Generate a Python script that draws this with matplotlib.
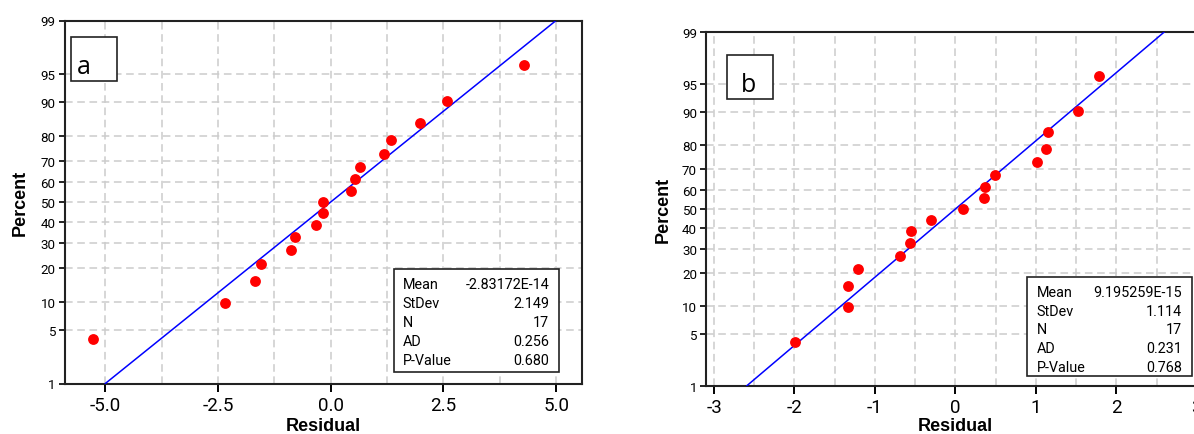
import math
import numpy as np
import matplotlib
matplotlib.use("Agg")
import matplotlib.pyplot as plt
from matplotlib.patches import Rectangle
from matplotlib.ticker import MultipleLocator, NullLocator
from statistics import NormalDist

# ---------------- data ----------------
percent = [4.0, 9.8, 15.5, 21.3, 27.0, 32.8, 38.5, 44.3, 50.0,
           55.7, 61.5, 67.2, 73.0, 78.7, 84.5, 90.2, 96.0]
resid_a = [-5.28, -2.34, -1.69, -1.54, -0.89, -0.80, -0.33, -0.17, -0.17,
           0.44, 0.54, 0.64, 1.19, 1.34, 1.99, 2.58, 4.28]
resid_b = [-1.99, -1.34, -1.33, -1.21, -0.69, -0.57, -0.55, -0.30, 0.09,
           0.35, 0.37, 0.49, 1.01, 1.13, 1.15, 1.53, 1.79]
mean_a, sd_a = -2.83172e-14, 2.149
mean_b, sd_b = 9.195259e-15, 1.114
fit_pct = [1, 99]
stat_names = ["Mean", "StDev", "N", "AD", "P-Value"]
stat_vals_a = ["-2.83172E-14", "2.149", "17", "0.256", "0.680"]
stat_vals_b = ["9.195259E-15", "1.114", "17", "0.231", "0.768"]
y_ticks = [1, 5, 10, 20, 30, 40, 50, 60, 70, 80, 90, 95, 99]
x_ticks_a = [-5.0, -2.5, 0.0, 2.5, 5.0]
x_ticks_b = [-3, -2, -1, 0, 1, 2, 3]
panel_labels = ["a", "b"]

# ---------------- probability scale ----------------
_nd = NormalDist()
_inv = np.vectorize(_nd.inv_cdf, otypes=[float])
_erf = np.vectorize(math.erf, otypes=[float])


def fwd(p):
    p = np.asarray(p, dtype=float)
    q = np.clip(p / 100.0, 1e-9, 1 - 1e-9)
    return _inv(q)


def inv(z):
    z = np.asarray(z, dtype=float)
    return 100.0 * 0.5 * (1.0 + _erf(z / math.sqrt(2.0)))


W, H = 1194, 435
fig = plt.figure(figsize=(W / 100, H / 100), dpi=100)


def fx(px):
    return px / W


def fy(py):
    return 1 - py / H


TICK_FONT = ["Roboto", "DejaVu Sans"]
LABEL_FONT = ["Liberation Sans", "DejaVu Sans"]
GRID_KW = dict(color="#cccccc", linewidth=1.1, linestyle=(0, (5, 3)))


def make_panel(rect_px, xlim, xticks, xminor, fmt, resid, mean, sd,
               stats_vals, stats_box, label, label_box, label_pos):
    l, t, r, b = rect_px
    ax = fig.add_axes([fx(l), fy(b), (r - l) / W, (b - t) / H])
    ax.set_yscale("function", functions=(fwd, inv))
    ax.set_ylim(1, 99)
    ax.set_xlim(*xlim)

    ax.set_yticks(y_ticks)
    ax.set_yticklabels([str(v) for v in y_ticks])
    ax.yaxis.set_minor_locator(NullLocator())
    ax.set_xticks(xticks)
    ax.set_xticklabels([fmt.format(v) for v in xticks])
    ax.xaxis.set_minor_locator(MultipleLocator(xminor))

    ax.grid(True, which="both", axis="x", **GRID_KW)
    ax.grid(True, which="major", axis="y", **GRID_KW)
    ax.set_axisbelow(True)

    ax.tick_params(axis="x", which="major", direction="out", length=6,
                   width=1.4, pad=3, labelsize=13.5, colors="black")
    ax.tick_params(axis="x", which="minor", length=0)
    ax.tick_params(axis="y", which="major", direction="out", length=4.5,
                   width=1.2, pad=2, labelsize=9.6)
    for lab in ax.get_xticklabels() + ax.get_yticklabels():
        lab.set_fontfamily(TICK_FONT)
    for sp in ax.spines.values():
        sp.set_linewidth(1.5)
        sp.set_color("#222222")

    # fitted line
    zfit = fwd(fit_pct)
    xfit = mean + sd * zfit
    ax.plot(xfit, fit_pct, color="#0000ff", linewidth=1.1, zorder=3)
    # points
    ax.plot(resid, percent, linestyle="none", marker="o", markersize=7.8,
            color="#ff0000", markeredgewidth=0, zorder=4)

    ax.set_xlabel("Residual", fontsize=13, fontweight="bold",
                  family=LABEL_FONT, va="baseline")
    ax.xaxis.set_label_coords(0.5, -(431.0 - b) / (b - t))
    ax.set_ylabel("Percent", fontsize=13, fontweight="bold",
                  family=LABEL_FONT, va="center")
    ax.yaxis.set_label_coords(-(l - label_pos) / (r - l), 0.5)

    # stats box
    bx0, by0, bx1, by1, tx0, tx1, ry0, rdy = stats_box
    fig.patches.append(Rectangle((fx(bx0), fy(by1)), (bx1 - bx0) / W,
                                 (by1 - by0) / H, transform=fig.transFigure,
                                 facecolor="white", edgecolor="#222222",
                                 linewidth=1.2, zorder=5))
    for i, (nm, vv) in enumerate(zip(stat_names, stats_vals)):
        yy = fy(ry0 + i * rdy)
        fig.text(fx(tx0), yy, nm, ha="left", va="center", fontsize=10.4,
                 family=TICK_FONT, zorder=6)
        fig.text(fx(tx1), yy, vv, ha="right", va="center", fontsize=10.4,
                 family=TICK_FONT, zorder=6)

    # panel label box
    lx0, ly0, lx1, ly1, cx, cy = label_box
    fig.patches.append(Rectangle((fx(lx0), fy(ly1)), (lx1 - lx0) / W,
                                 (ly1 - ly0) / H, transform=fig.transFigure,
                                 facecolor="white", edgecolor="#222222",
                                 linewidth=1.2, zorder=5))
    fig.text(fx(cx), fy(cy), label, ha="center", va="baseline",
             fontsize=18, family=["Open Sans", "DejaVu Sans"], zorder=6)
    return ax


make_panel((64.5, 21.5, 581.7, 384.5), (-5.905, 5.568), x_ticks_a, 1.25,
           "{:.1f}", resid_a, mean_a, sd_a, stat_vals_a,
           (394, 270, 559.3, 373.3, 402.7, 549.3, 285, 19.1),
           panel_labels[0], (71, 37.7, 117.3, 82, 83.5, 73.5), 20)

make_panel((706, 33.3, 1204.8, 386.7), (-3.10, 3.10), x_ticks_b, 0.5,
           "{:d}", resid_b, mean_b, sd_b, stat_vals_b,
           (1027.3, 278.3, 1191.5, 377.3, 1036.7, 1181.7, 292.7, 18.8),
           panel_labels[1], (726.7, 56, 773.3, 100, 748.5, 92.5), 663.7)

fig.savefig("out.png", dpi=100)
